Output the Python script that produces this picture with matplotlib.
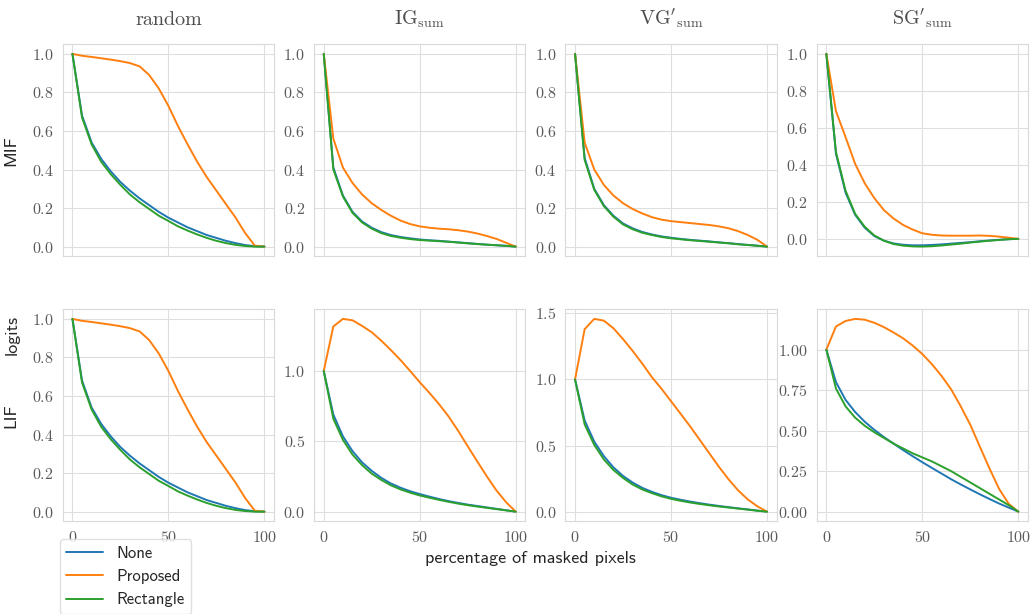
import matplotlib
matplotlib.use("Agg")
import matplotlib.pyplot as plt
import seaborn as sns
import numpy as np

sns.set_style("whitegrid")
plt.rcParams['font.family'] = ['cmr10']
plt.rcParams['mathtext.fontset'] = 'cm'
plt.rcParams['axes.formatter.use_mathtext'] = True
plt.rcParams['axes.unicode_minus'] = False

# x axis: percentage of masked pixels
pct = np.arange(0, 101, 5)

# ---- MIF row ----
mif_random_none = [1.0, 0.68, 0.54, 0.455, 0.39, 0.335, 0.29, 0.25, 0.215, 0.18, 0.15,
                   0.125, 0.10, 0.08, 0.06, 0.045, 0.03, 0.018, 0.008, 0.002, 0.0]
mif_random_prop = [1.0, 0.99, 0.984, 0.977, 0.97, 0.962, 0.952, 0.935, 0.89, 0.82, 0.73,
                   0.625, 0.53, 0.44, 0.36, 0.29, 0.22, 0.15, 0.07, 0.005, 0.0]
mif_random_rect = [1.0, 0.67, 0.53, 0.44, 0.375, 0.32, 0.27, 0.23, 0.195, 0.16, 0.133,
                   0.105, 0.083, 0.063, 0.045, 0.03, 0.018, 0.009, 0.003, 0.0, 0.0]

mif_ig_none = [1.0, 0.41, 0.265, 0.18, 0.13, 0.098, 0.075, 0.06, 0.05, 0.043, 0.037,
               0.033, 0.03, 0.026, 0.022, 0.018, 0.014, 0.01, 0.007, 0.004, 0.0]
mif_ig_prop = [1.0, 0.56, 0.41, 0.33, 0.27, 0.225, 0.19, 0.16, 0.135, 0.117, 0.105,
               0.098, 0.093, 0.09, 0.085, 0.078, 0.068, 0.055, 0.04, 0.02, 0.0]
mif_ig_rect = [1.0, 0.40, 0.26, 0.175, 0.125, 0.093, 0.07, 0.055, 0.046, 0.039, 0.034,
               0.031, 0.028, 0.025, 0.021, 0.017, 0.013, 0.01, 0.007, 0.004, 0.0]

mif_vg_none = [1.0, 0.46, 0.30, 0.215, 0.16, 0.12, 0.095, 0.076, 0.063, 0.053, 0.046,
               0.04, 0.035, 0.031, 0.027, 0.022, 0.018, 0.013, 0.009, 0.005, 0.0]
mif_vg_prop = [1.0, 0.54, 0.40, 0.32, 0.265, 0.225, 0.195, 0.172, 0.153, 0.14, 0.132,
               0.127, 0.122, 0.117, 0.112, 0.105, 0.095, 0.08, 0.06, 0.035, 0.0]
mif_vg_rect = [1.0, 0.45, 0.295, 0.21, 0.155, 0.115, 0.09, 0.072, 0.06, 0.05, 0.043,
               0.038, 0.033, 0.029, 0.025, 0.021, 0.017, 0.012, 0.008, 0.004, 0.0]

mif_sg_none = [1.0, 0.46, 0.25, 0.13, 0.06, 0.015, -0.01, -0.025, -0.032, -0.035, -0.035,
               -0.033, -0.03, -0.026, -0.022, -0.018, -0.013, -0.009, -0.005, -0.002, 0.0]
mif_sg_prop = [1.0, 0.69, 0.55, 0.405, 0.30, 0.22, 0.155, 0.11, 0.075, 0.05, 0.03,
               0.022, 0.018, 0.017, 0.017, 0.017, 0.018, 0.016, 0.012, 0.006, 0.0]
mif_sg_rect = [1.0, 0.47, 0.26, 0.135, 0.065, 0.018, -0.01, -0.028, -0.037, -0.041, -0.042,
               -0.04, -0.036, -0.031, -0.026, -0.02, -0.015, -0.01, -0.006, -0.002, 0.0]

# ---- LIF row ----
lif_random_none = mif_random_none
lif_random_prop = mif_random_prop
lif_random_rect = mif_random_rect

lif_ig_none = [1.0, 0.69, 0.535, 0.43, 0.35, 0.29, 0.24, 0.2, 0.17, 0.145, 0.125,
               0.107, 0.09, 0.075, 0.062, 0.05, 0.04, 0.03, 0.02, 0.01, 0.0]
lif_ig_prop = [1.0, 1.316, 1.37, 1.36, 1.32, 1.275, 1.215, 1.148, 1.077, 1.0, 0.92,
               0.845, 0.765, 0.677, 0.575, 0.465, 0.356, 0.25, 0.15, 0.067, 0.0]
lif_ig_rect = [1.0, 0.66, 0.51, 0.405, 0.33, 0.27, 0.225, 0.187, 0.158, 0.135, 0.115,
               0.099, 0.084, 0.07, 0.057, 0.046, 0.036, 0.027, 0.018, 0.009, 0.0]

lif_vg_none = [1.0, 0.69, 0.53, 0.42, 0.335, 0.27, 0.22, 0.18, 0.15, 0.125, 0.105,
               0.09, 0.076, 0.064, 0.053, 0.043, 0.034, 0.025, 0.017, 0.008, 0.0]
lif_vg_prop = [1.0, 1.38, 1.458, 1.445, 1.387, 1.305, 1.216, 1.12, 1.018, 0.93, 0.835,
               0.74, 0.644, 0.542, 0.44, 0.338, 0.244, 0.16, 0.092, 0.04, 0.0]
lif_vg_rect = [1.0, 0.66, 0.505, 0.395, 0.315, 0.255, 0.205, 0.168, 0.14, 0.116, 0.097,
               0.082, 0.069, 0.058, 0.048, 0.039, 0.031, 0.023, 0.015, 0.007, 0.0]

lif_sg_none = [1.0, 0.80, 0.69, 0.615, 0.555, 0.505, 0.46, 0.42, 0.38, 0.342, 0.305,
               0.27, 0.235, 0.2, 0.168, 0.137, 0.107, 0.078, 0.05, 0.025, 0.0]
lif_sg_prop = [1.0, 1.143, 1.177, 1.19, 1.185, 1.166, 1.139, 1.106, 1.07, 1.025, 0.973,
               0.91, 0.838, 0.755, 0.65, 0.536, 0.40, 0.266, 0.14, 0.048, 0.0]
lif_sg_rect = [1.0, 0.76, 0.65, 0.58, 0.53, 0.49, 0.455, 0.42, 0.39, 0.36, 0.335,
               0.31, 0.28, 0.25, 0.215, 0.18, 0.145, 0.11, 0.075, 0.04, 0.0]

col_titles = ['random', r'$\mathrm{IG}_{\mathrm{sum}}$',
              r"$\mathrm{VG}'_{\mathrm{sum}}$", r"$\mathrm{SG}'_{\mathrm{sum}}$"]
row_labels = ['MIF', 'LIF']
methods = ['None', 'Proposed', 'Rectangle']

data = [
    [(mif_random_none, mif_random_prop, mif_random_rect),
     (mif_ig_none, mif_ig_prop, mif_ig_rect),
     (mif_vg_none, mif_vg_prop, mif_vg_rect),
     (mif_sg_none, mif_sg_prop, mif_sg_rect)],
    [(lif_random_none, lif_random_prop, lif_random_rect),
     (lif_ig_none, lif_ig_prop, lif_ig_rect),
     (lif_vg_none, lif_vg_prop, lif_vg_rect),
     (lif_sg_none, lif_sg_prop, lif_sg_rect)],
]
colors = ['#1f77b4', '#ff7f0e', '#2ca02c']

fig, axes = plt.subplots(2, 4, figsize=(10.3, 6.14), dpi=100, sharex=True)
plt.subplots_adjust(left=0.061, right=0.998, top=0.928, bottom=0.151,
                    wspace=0.19, hspace=0.25)

for r in range(2):
    for c in range(4):
        ax = axes[r, c]
        for k in range(3):
            ax.plot(pct, data[r][c][k], color=colors[k], lw=1.4, label=methods[k])
        ax.tick_params(labelsize=11.5, colors='0.35', pad=3)
        for s in ax.spines.values():
            s.set_color('0.85')
        ax.grid(color='0.87')
        if r == 0:
            ax.set_title(col_titles[c], fontsize=14.5, color='0.3', pad=14)
    axes[r, 0].set_ylabel(row_labels[r], fontsize=13, family='cmss10', labelpad=10)

axes[1, 0].set_xticks([0, 50, 100])

fig.text(0.012, 0.455, 'logits', rotation=90, fontsize=13, family='cmss10',
         ha='center', va='center')
fig.text(0.515, 0.09, 'percentage of masked pixels', fontsize=13, family='cmss10',
         ha='center', va='center')

handles, labels = axes[0, 0].get_legend_handles_labels()
leg = fig.legend(handles, labels, loc='upper left', bbox_to_anchor=(0.058, 0.122),
                 prop={'family': 'cmss10', 'size': 12}, frameon=True,
                 handlelength=2.2, borderaxespad=0)
leg.get_frame().set_edgecolor('0.85')

fig.savefig('out.png', dpi=100)
